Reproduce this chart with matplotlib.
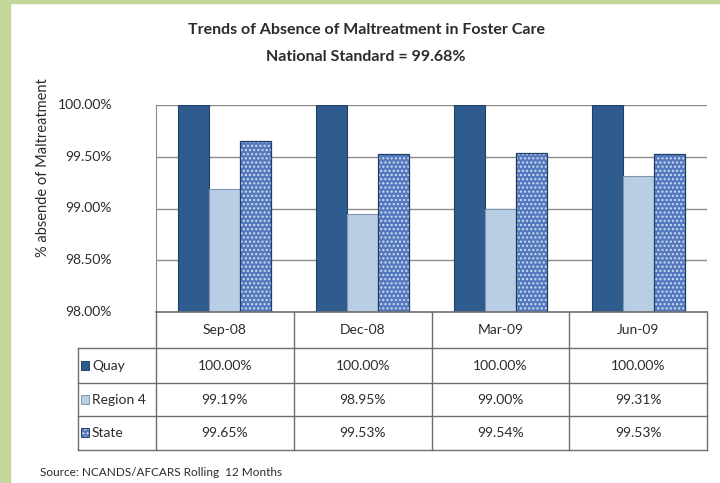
import numpy as np
import matplotlib
matplotlib.use("Agg")
import matplotlib.pyplot as plt
from matplotlib.patches import Rectangle

plt.rcParams['font.family'] = ['Lato', 'DejaVu Sans']

# data
periods = ["Sep-08", "Dec-08", "Mar-09", "Jun-09"]
series_names = ["Quay", "Region 4", "State"]
quay = [100.00, 100.00, 100.00, 100.00]
region4 = [99.19, 98.95, 99.00, 99.31]
state = [99.65, 99.53, 99.54, 99.53]
quay_lbl = ["100.00%", "100.00%", "100.00%", "100.00%"]
region4_lbl = ["99.19%", "98.95%", "99.00%", "99.31%"]
state_lbl = ["99.65%", "99.53%", "99.54%", "99.53%"]
yticks = [98.0, 98.5, 99.0, 99.5, 100.0]

W, H = 720, 483
fig = plt.figure(figsize=(W / 100, H / 100), dpi=100)
fig.patch.set_facecolor("white")

# green frame strips
fig.patches.append(Rectangle((0, 0), 10 / W, 1, transform=fig.transFigure, color="#C4D79B", zorder=0))
fig.patches.append(Rectangle((0, 1 - 3 / H), 1, 3 / H, transform=fig.transFigure, color="#C4D79B", zorder=0))

def fx(px):
    return px / W

def fy(py):
    return 1 - py / H

txt = "#2B2B2B"

# plot area in pixels
L, R, T, B = 156, 707, 105, 312
ax = fig.add_axes([fx(L), fy(B), fx(R - L), (B - T) / H])
ax.set_xlim(-0.5, 3.5)
ax.set_ylim(98, 100)

colors = ["#2F5C8F", "#B9CDE5", "#5479BE"]
edges = ["#1F3F66", "#7F95B0", "#1F3F66"]
x = np.arange(len(periods))
bw = 0.225
offs = [-bw, 0, bw]
for vals, off, c, ec, name in zip([quay, region4, state], offs, colors, edges, series_names):
    h = np.array(vals) - 98
    if name == "State":
        # speckled texture, then outline on top
        ax.bar(x + off, h, bottom=98, width=bw, color=c, edgecolor="#D3DEF2",
               linewidth=0, hatch="....", zorder=3)
        ax.bar(x + off, h, bottom=98, width=bw, fill=False, edgecolor=ec,
               linewidth=0.9, zorder=4)
    else:
        ax.bar(x + off, h, bottom=98, width=bw, color=c, edgecolor=ec,
               linewidth=0.8, zorder=3)

ax.set_yticks(yticks)
ax.set_yticklabels([])
ax.grid(axis="y", color="#8C8C8C", linewidth=1.0, zorder=0)
ax.set_xticks([])
for s in ["top", "right", "bottom"]:
    ax.spines[s].set_visible(False)
ax.spines["left"].set_color("#8C8C8C")
ax.tick_params(axis="y", length=0)

# y tick labels placed left of the table column
for v in yticks:
    yp = B - (v - 98) / 2 * (B - T)
    fig.text(fx(112), fy(yp), f"{v:.2f}%", ha="right", va="center", fontsize=10, color=txt)

# y axis label
fig.text(fx(43), fy(168), "% absende of Maltreatment", rotation=90, ha="center", va="center",
         fontsize=10.5, color=txt)

# titles
fig.text(fx(366), fy(30), "Trends of Absence of Maltreatment in Foster Care", ha="center", va="center",
         fontsize=11.5, fontweight="bold", color=txt)
fig.text(fx(366), fy(57), "National Standard = 99.68%", ha="center", va="center",
         fontsize=11.5, fontweight="bold", color=txt)

# data table
TL, TB = 78, 450
rows = [B, 348, 383, 416, TB]
cw = (R - L) / len(periods)
tab = fig.add_axes([0, 0, 1, 1], facecolor="none")
tab.set_xlim(0, W)
tab.set_ylim(H, 0)
tab.axis("off")
lc = "#6E6E6E"
tab.plot([L, R], [B, B], color=lc, lw=1.2)
for yy in rows[1:]:
    tab.plot([TL, R], [yy, yy], color=lc, lw=1.0)
tab.plot([TL, TL], [rows[1], TB], color=lc, lw=1.0)
tab.plot([L, L], [B, TB], color=lc, lw=1.0)
for i in range(1, len(periods) + 1):
    xx = L + i * cw
    tab.plot([xx, xx], [B, TB], color=lc, lw=1.0)

for i, p in enumerate(periods):
    tab.text(L + (i + 0.5) * cw, (rows[0] + rows[1]) / 2, p, ha="center", va="center",
             fontsize=10, color=txt)
for r, (name, lbls) in enumerate(zip(series_names, [quay_lbl, region4_lbl, state_lbl])):
    yc = (rows[r + 1] + rows[r + 2]) / 2
    if name == "State":
        tab.add_patch(Rectangle((81, yc - 5), 8, 9, facecolor=colors[r], edgecolor="#D3DEF2",
                                lw=0, hatch="...."))
        tab.add_patch(Rectangle((81, yc - 5), 8, 9, fill=False, edgecolor=edges[r], lw=0.7))
    else:
        tab.add_patch(Rectangle((81, yc - 5), 8, 9, facecolor=colors[r], edgecolor=edges[r], lw=0.7))
    tab.text(92, yc, name, ha="left", va="center", fontsize=10, color=txt)
    for i, t in enumerate(lbls):
        tab.text(L + (i + 0.5) * cw, yc, t, ha="center", va="center", fontsize=10, color=txt)

fig.text(fx(40), fy(473), "Source: NCANDS/AFCARS Rolling  12 Months", ha="left", va="center",
         fontsize=8.5, color=txt)

fig.savefig("out.png", dpi=100)
